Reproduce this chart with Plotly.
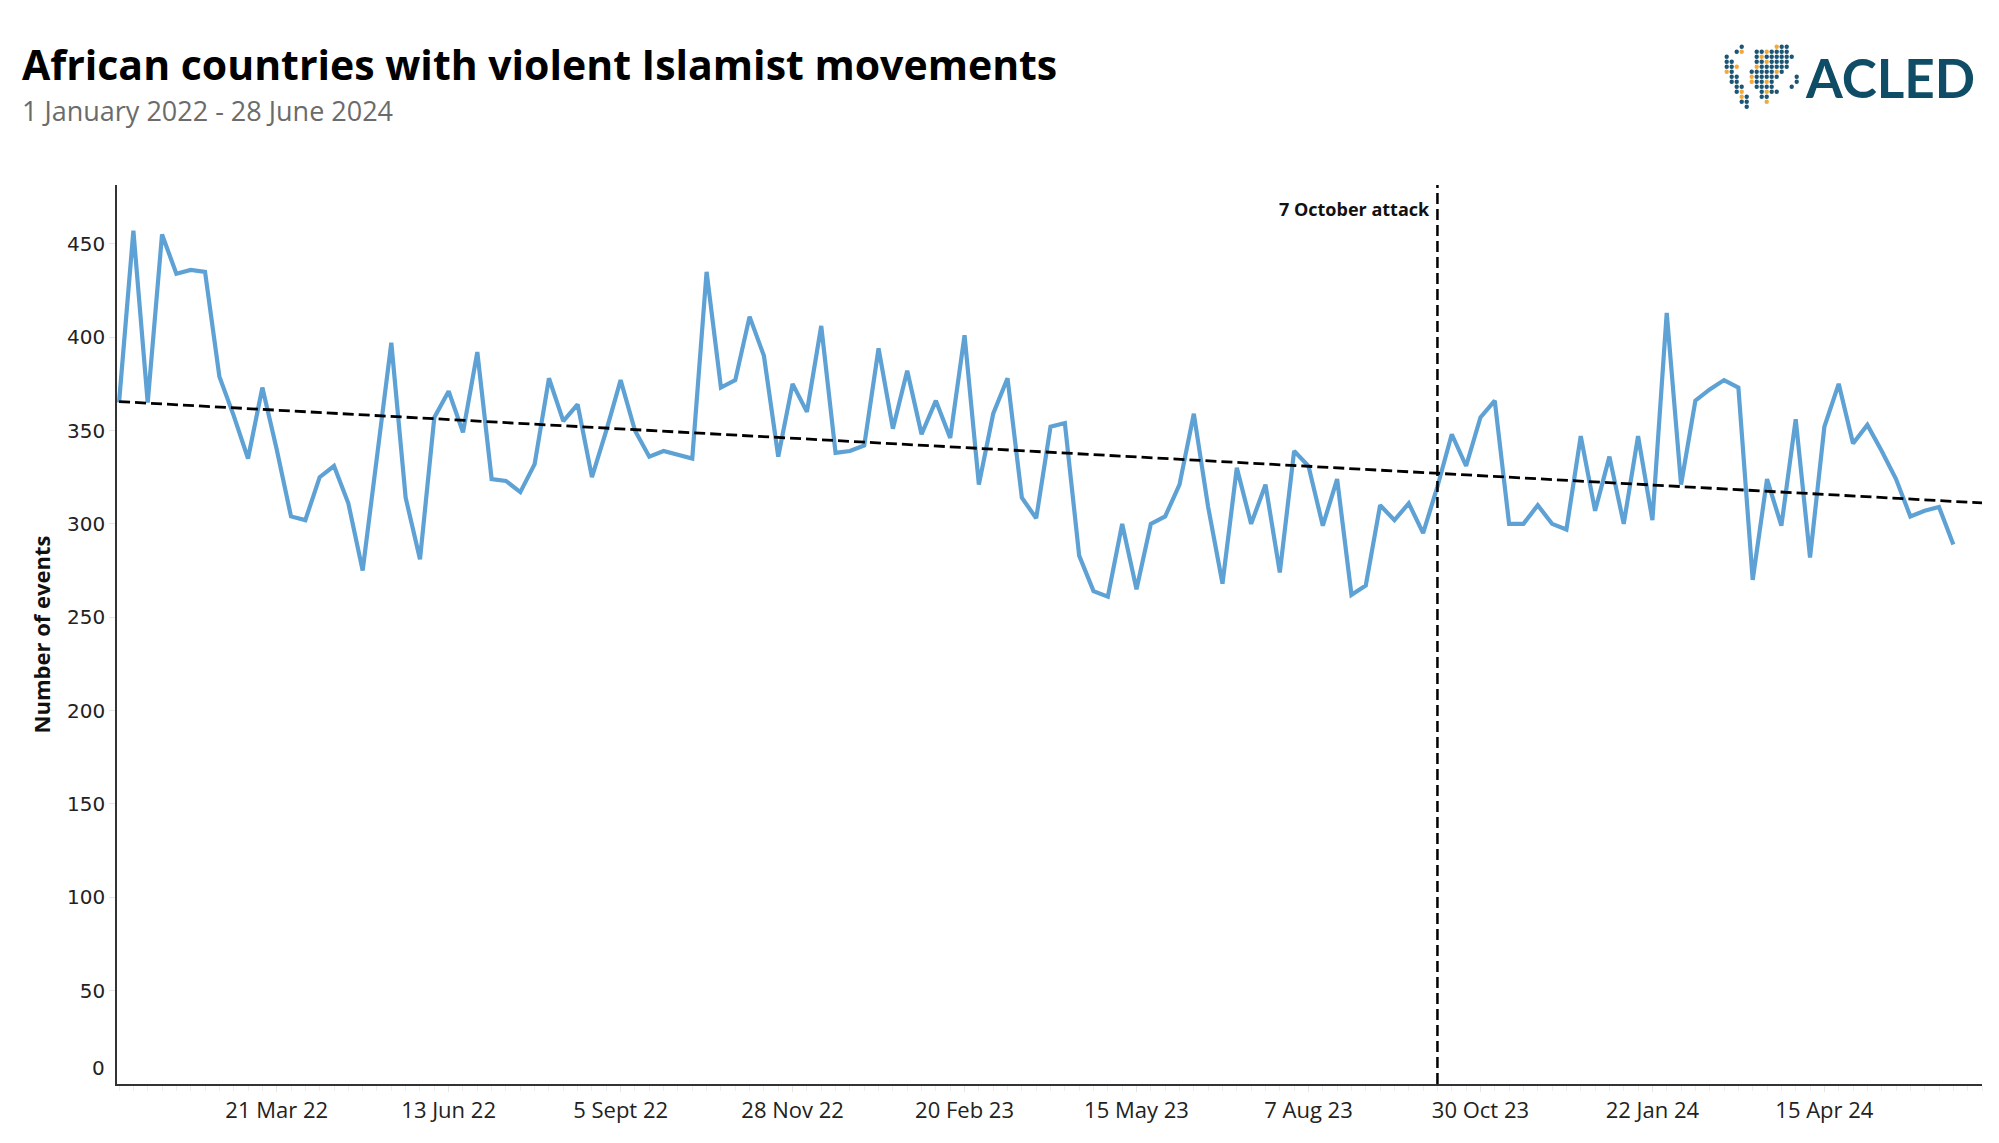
import pandas as pd
import plotly.graph_objects as go

# ---- data -------------------------------------------------------------
start_week = "2022-01-03"
events = [
    365, 457, 365, 455, 434, 436, 435, 379, 358, 335,
    373, 340, 304, 302, 325, 331, 311, 275, 336, 397,
    314, 281, 357, 371, 349, 392, 324, 323, 317, 332,
    378, 355, 364, 325, 350, 377, 350, 336, 339, 337,
    335, 435, 373, 377, 411, 390, 336, 375, 360, 406,
    338, 339, 342, 394, 351, 382, 348, 366, 346, 401,
    321, 359, 378, 314, 303, 352, 354, 283, 264, 261,
    300, 265, 300, 304, 321, 359, 309, 268, 330, 300,
    321, 274, 339, 331, 299, 324, 262, 267, 310, 302,
    311, 295, 320, 348, 331, 357, 366, 300, 300, 310,
    300, 297, 347, 307, 336, 300, 347, 302, 413, 321,
    366, 372, 377, 373, 270, 324, 299, 356, 282, 352,
    375, 343, 353, 339, 324, 304, 307, 309, 289,
]
weeks = pd.date_range(start_week, periods=len(events), freq="7D")

trend_x = ["2022-01-03", "2024-07-01"]
trend_y = [365.5, 311.2]

attack_date = "2023-10-09"
attack_label = "7 October attack"

tick_dates = ["2022-03-21", "2022-06-13", "2022-09-05", "2022-11-28", "2023-02-20",
              "2023-05-15", "2023-08-07", "2023-10-30", "2024-01-22", "2024-04-15"]
tick_text = ["21 Mar 22", "13 Jun 22", "5 Sept 22", "28 Nov 22", "20 Feb 23",
             "15 May 23", "7 Aug 23", "30 Oct 23", "22 Jan 24", "15 Apr 24"]
y_ticks = [50, 100, 150, 200, 250, 300, 350, 400, 450]

title_text = "African countries with violent Islamist movements"
subtitle_text = "1 January 2022 - 28 June 2024"
y_title = "Number of events"

# logo dot pattern (x = teal, o = orange)
logo_rows = [
    ".....x......oxx..",
    "....xo..xxoxxxx..",
    "..x.....xoxxxxxx.",
    "..xx....xxoxxxx..",
    "..xxo...oxxxxxx..",
    "..ox...xxxxxox...",
    "...xx..oxxxxx...x",
    "...xx..oxxox....x",
    "....xx..xxxx...x.",
    "....xo...xoxx....",
    ".....ox..xx......",
    ".....xx...o......",
    "......x..........",
]

# ---- geometry helpers (pixels -> paper) -------------------------------
L, R, T, B = 117, 1982, 185, 1084
PW, PH = R - L, B - T
def px(x):
    return (x - L) / PW
def py(y):
    return (B - y) / PH

# ---- figure -----------------------------------------------------------
fig = go.Figure()
fig.add_trace(go.Scatter(
    x=weeks, y=events, mode="lines",
    line=dict(color="#5ea2d5", width=4.2),
    hoverinfo="x+y", showlegend=False,
))
fig.add_trace(go.Scatter(
    x=trend_x, y=trend_y, mode="lines",
    line=dict(color="#000000", width=2.8, dash="11px,5px"),
    hoverinfo="skip", showlegend=False,
))

fig.add_shape(type="line", xref="x", yref="paper",
              x0=attack_date, x1=attack_date, y0=0, y1=1,
              line=dict(color="#000000", width=2.5, dash="11px,5px"))
fig.add_annotation(x=attack_date, xref="x", y=py(209), yref="paper",
                   text=f"<b>{attack_label}</b>", showarrow=False,
                   xanchor="right", xshift=-5, yanchor="middle",
                   font=dict(family="Open Sans", size=18, color="#111111"))

# zero label sits slightly above the axis line in the original
fig.add_annotation(x=0, xref="paper", y=py(1068), yref="paper", text="0",
                   showarrow=False, xanchor="right", xshift=-10, yanchor="middle",
                   font=dict(family="DejaVu Sans", size=20, color="#222222"))

fig.add_annotation(x=px(20), xref="paper", y=py(64), yref="paper",
                   text=f"<b>{title_text}</b>", showarrow=False,
                   xanchor="left", yanchor="middle",
                   font=dict(family="Open Sans", size=41, color="#000000"))
fig.add_annotation(x=px(20), xref="paper", y=py(111), yref="paper",
                   text=subtitle_text, showarrow=False,
                   xanchor="left", yanchor="middle",
                   font=dict(family="Open Sans", size=27, color="#6b6b6b"))
fig.add_annotation(x=px(1977), xref="paper", y=py(77), yref="paper",
                   text="<b>ACLED</b>", showarrow=False,
                   xanchor="right", yanchor="middle",
                   font=dict(family="Lato", size=53, color="#0f4d67"))

# logo dots
for r, row in enumerate(logo_rows):
    for c, ch in enumerate(row):
        if ch == ".":
            continue
        cx = 1716.7 + 5 * c
        cy = 46.7 + 5 * r
        col = "#f2a93b" if ch == "o" else "#1c5674"
        fig.add_shape(type="circle", xref="paper", yref="paper",
                      x0=px(cx - 2.2), x1=px(cx + 2.2),
                      y0=py(cy + 2.2), y1=py(cy - 2.2),
                      fillcolor=col, line=dict(width=0), layer="above")

fig.update_layout(
    width=1999, height=1143,
    margin=dict(l=L, r=1999 - R, t=T, b=1143 - B),
    paper_bgcolor="white", plot_bgcolor="white",
    font=dict(family="Open Sans", color="#222222"),
    xaxis=dict(
        type="date",
        range=["2022-01-02", "2024-07-01"],
        tickvals=tick_dates, ticktext=tick_text,
        tickfont=dict(family="Open Sans", size=22, color="#222222"),
        showgrid=False, zeroline=False,
        showline=True, linecolor="#333333", linewidth=2,
        ticks="outside", ticklen=6, tickcolor="#e6e6e6", tickwidth=1,
        minor=dict(ticks="outside", ticklen=5, tickcolor="#eeeeee",
                   dtick=7 * 86400000, tick0="2022-01-03"),
        fixedrange=True,
    ),
    yaxis=dict(
        range=[0, 481.5],
        tickvals=y_ticks,
        tickfont=dict(family="DejaVu Sans", size=20, color="#222222"),
        title=dict(text=f"<b>{y_title}</b>", standoff=10,
                   font=dict(family="Open Sans", size=22, color="#111111")),
        showgrid=False, zeroline=False,
        showline=True, linecolor="#333333", linewidth=1.5,
        ticks="outside", ticklen=6, tickcolor="#e6e6e6", tickwidth=1,
        fixedrange=True,
    ),
)

fig.write_html("out.html")
